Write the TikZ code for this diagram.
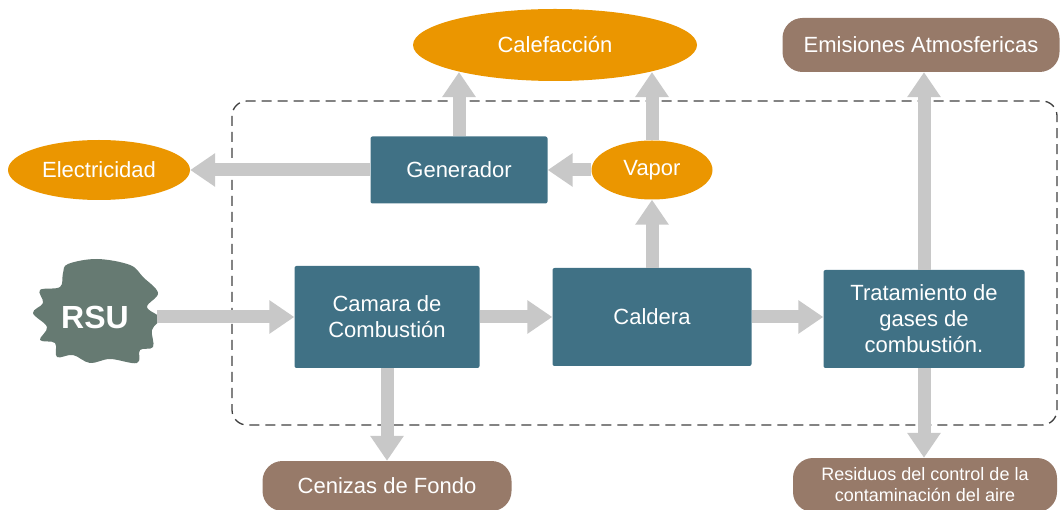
\documentclass[tikz,border=0pt]{standalone}
\usepackage{fontspec}
\setmainfont{Liberation Sans}
\usetikzlibrary{arrows.meta,shapes.geometric}
\definecolor{boxteal}{HTML}{407185}
\definecolor{outorange}{HTML}{EB9600}
\definecolor{outbrown}{HTML}{977A69}
\definecolor{rsugray}{HTML}{667A72}
\definecolor{flowgray}{HTML}{C8C8C8}
\definecolor{framegray}{HTML}{404040}
\begin{document}
\begin{tikzpicture}[x=1pt,y=-1pt,
  every node/.style={text=white,font=\fontsize{22}{26}\selectfont,inner sep=0pt,align=center},
  unit/.style={fill=boxteal,rounded corners=2pt},
  orange/.style={ellipse,fill=outorange},
  waste/.style={fill=outbrown,rounded corners=20pt},
  flow/.style={draw=flowgray,line width=13pt,-{Triangle[width=32pt,length=25pt]}}]
\useasboundingbox (0,0) rectangle (1060,510);

\draw[framegray,line width=1.3pt,dash pattern=on 10pt off 6pt,rounded corners=15pt] (232,101) rectangle (1057,425);

\fill[rsugray] plot[smooth cycle,tension=0.6] coordinates {(68,264) (97,259) (130,265) (143,277) (158,293) (147,307) (160,318) (152,330) (153,347) (140,350) (137,363) (110,359) (90,363) (73,355) (57,357) (55,343) (40,340) (47,327) (33,313) (43,303) (40,290) (60,287) (63,273)};
\node[minimum width=124pt,minimum height=40pt,font=\fontsize{32}{36}\selectfont\bfseries] (rsu) at (95,317) {RSU};

\node[unit,minimum width=185pt,minimum height=102pt] (cam) at (387,317) {Camara de\\Combustión};
\node[unit,minimum width=199pt,minimum height=98pt] (cal) at (652,317) {Caldera};
\node[unit,minimum width=201pt,minimum height=98pt] (trat) at (924,319) {Tratamiento de\\gases de\\combustión.};
\node[unit,minimum width=177pt,minimum height=67pt] (gen) at (459,170) {Generador};

\node[orange,minimum width=121pt,minimum height=59pt] (vap) at (652,170) {Vapor};
\node[orange,minimum width=182pt,minimum height=60pt] (elec) at (99,170) {Electricidad};
\node[orange,minimum width=284pt,minimum height=72pt] (calef) at (555,45) {Calefacción};

\node[waste,minimum width=277pt,minimum height=54pt] (emis) at (921,45) {Emisiones Atmosfericas};
\node[waste,minimum width=249pt,minimum height=50pt] (ceniz) at (387,486) {Cenizas de Fondo};
\node[waste,minimum width=264pt,minimum height=54pt,font=\fontsize{18}{21}\selectfont] (resid) at (925,485) {Residuos del control de la\\contaminación del aire};

\draw[flow] (rsu.east) -- (cam.west);
\draw[flow] (cam.east) -- (cal.west);
\draw[flow] (cal.east) -- (cal.east -| trat.west);
\draw[flow] (cal.north) -- (vap.south);
\draw[flow] (vap.west) -- (gen.east);
\draw[flow] (gen.west) -- (elec.east);
\draw[flow] (gen.north) -- (gen.north |- calef.196);
\draw[flow] (vap.north) -- (vap.north |- calef.344);
\draw[flow] (trat.north) -- (trat.north |- emis.south);
\draw[flow] (trat.south) -- (trat.south |- resid.north);
\draw[flow] (cam.south) -- (ceniz.north);
\end{tikzpicture}
\end{document}
